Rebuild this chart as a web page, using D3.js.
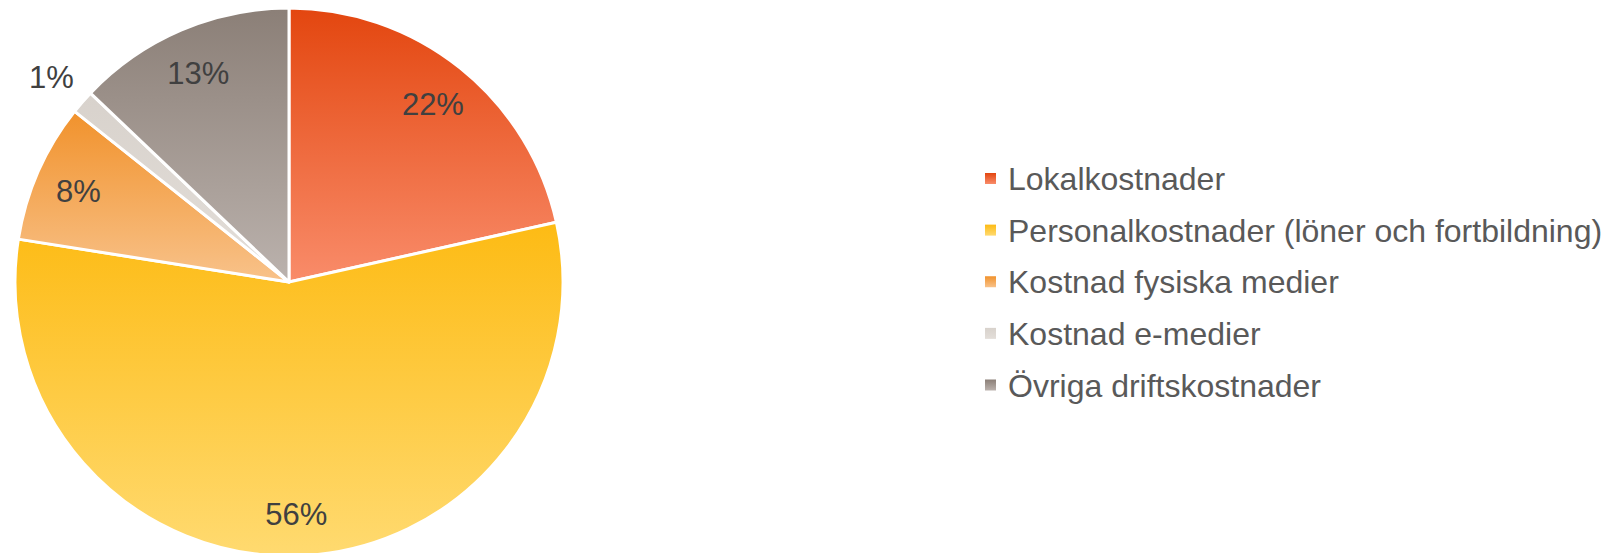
<!DOCTYPE html>
<html>
<head>
<meta charset="utf-8">
<script src="https://cdn.jsdelivr.net/npm/d3@7"></script>
<style>
  body { margin: 0; background: #fff; }
  svg { display: block; font-family: "Liberation Sans", Arial, sans-serif; }
</style>
</head>
<body>
<script>
const width = 1605;
const height = 553;

const categories = [
  'Lokalkostnader',
  'Personalkostnader (löner och fortbildning)',
  'Kostnad fysiska medier',
  'Kostnad e-medier',
  'Övriga driftskostnader'
];
const shares = [21.5, 56.0, 8.2, 1.4, 12.9];
// gradient colours, top -> bottom of each slice
const topColours = ['#e3460f', '#fdbb14', '#f1922c', '#d8d2cc', '#8b7f77'];
const bottomColours = ['#f98c6a', '#ffda70', '#f8c28a', '#e3ded9', '#bbb2ad'];

const cx = 289, cy = 282, radius = 274;

const svg = d3.select('body').append('svg')
  .attr('width', width)
  .attr('height', height);

const defs = svg.append('defs');
categories.forEach((c, i) => {
  const g = defs.append('linearGradient')
    .attr('id', 'grad' + i)
    .attr('x1', 0).attr('y1', 0)
    .attr('x2', 0).attr('y2', 1);
  g.append('stop').attr('offset', '0%').attr('stop-color', topColours[i]);
  g.append('stop').attr('offset', '100%').attr('stop-color', bottomColours[i]);
});

const pie = d3.pie().sort(null).value((d) => d)(shares);
const arc = d3.arc().innerRadius(0).outerRadius(radius);

const g = svg.append('g').attr('transform', `translate(${cx},${cy})`);

g.selectAll('path.slice')
  .data(pie)
  .join('path')
  .attr('class', 'slice')
  .attr('d', arc)
  .attr('fill', (d, i) => `url(#grad${i})`)
  .attr('stroke', '#fff')
  .attr('stroke-width', 3)
  .attr('stroke-linejoin', 'round');

// labels: inside for normal slices, just outside for tiny ones
const inner = d3.arc().innerRadius(radius * 0.84).outerRadius(radius * 0.84);
const outer = d3.arc().innerRadius(radius * 1.15).outerRadius(radius * 1.15);

g.selectAll('text.lbl')
  .data(pie)
  .join('text')
  .attr('class', 'lbl')
  .attr('transform', (d) => {
    const p = (d.value < 2 ? outer : inner).centroid(d);
    return `translate(${p[0]},${p[1]})`;
  })
  .attr('text-anchor', 'middle')
  .attr('dy', '0.42em')
  .attr('font-size', 31)
  .attr('fill', '#404040')
  .text((d) => Math.round(d.value) + '%');

// legend
const legendY = d3.scalePoint()
  .domain(categories)
  .range([178.5, 385]);

const legend = svg.append('g')
  .selectAll('g')
  .data(categories)
  .join('g')
  .attr('transform', (d) => `translate(985,${legendY(d)})`);

legend.append('rect')
  .attr('x', 0)
  .attr('y', -5.5)
  .attr('width', 11)
  .attr('height', 11)
  .attr('fill', (d, i) => `url(#grad${i})`);

legend.append('text')
  .attr('x', 23)
  .attr('y', 11.5)
  .attr('font-size', 32)
  .attr('fill', '#595959')
  .text((d) => d);
</script>
</body>
</html>
